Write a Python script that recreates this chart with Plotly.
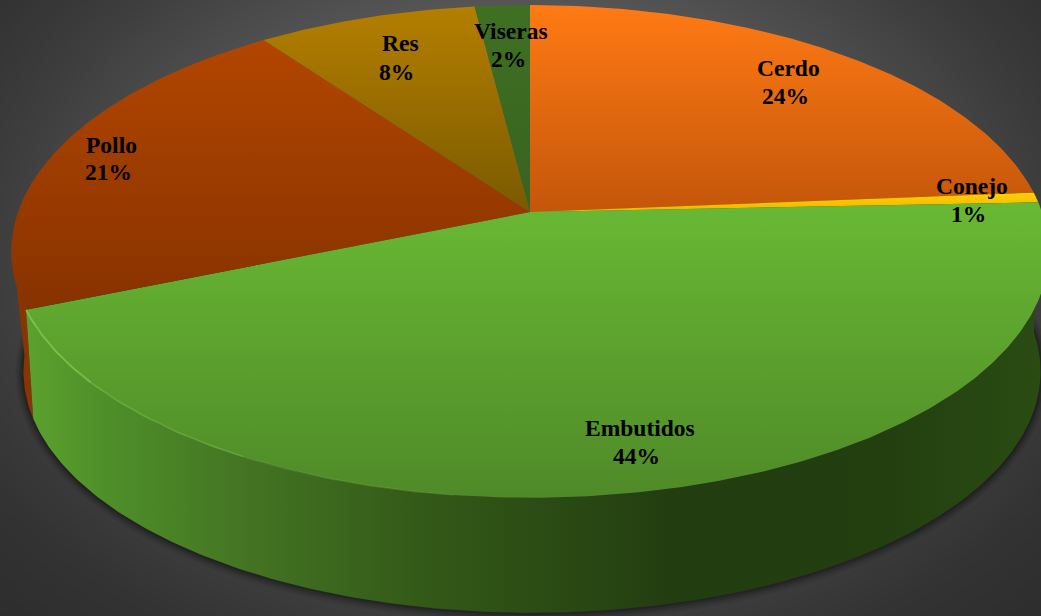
"""Perspective 3D-style pie of meat categories, drawn with filled scatter traces."""

import numpy as np
import plotly.graph_objects as go

CATEGORIES = ["Cerdo", "Conejo", "Embutidos", "Pollo", "Res", "Viseras"]
VALUES = [23.7, 0.65, 44.4, 21.25, 8.0, 2.0]
PERCENT_LABELS = ["24%", "1%", "44%", "21%", "8%", "2%"]

# (top colour, bottom colour) of each slice's face
FACE_COLORS = [
    ("#ff7a14", "#c4560a"),
    ("#ffd000", "#f0b400"),
    ("#69b934", "#4f8a28"),
    ("#b24600", "#873200"),
    ("#b47f00", "#7a5a00"),
    ("#3f7022", "#386320"),
]
NAME_POS = [(788, 68), (972, 186), (640, 428), (111, 145), (400, 43), (511, 31)]
PCT_POS = [(785, 96), (968, 214), (636, 456), (108, 172), (396, 72), (508, 59)]

W, H = 1041, 616
TOP_CX, TOP_CY, TOP_RX, TOP_RY = 530, 212, 512, 240
BOT_CX, BOT_CY, BOT_RX, BOT_RY = 532, 333, 502, 235
BOT_SHIFT = 0.65  # the lower rim's slice seam sits a little further round
PERSP = 0.16


def project(pct, cx, cy, rx, ry):
    """Percent clockwise from 12 o'clock -> pixel position on a tilted circle."""
    a = np.asarray(pct) * 2 * np.pi / 100
    u, v = np.sin(a), np.cos(a)
    w = 1 + PERSP * v
    return cx + rx * u / w, cy - ry * v / w


def top_arc(p0, p1):
    return project(np.linspace(p0, p1, max(int(abs(p1 - p0) * 6), 4)), TOP_CX, TOP_CY, TOP_RX, TOP_RY)


def bot_arc(p0, p1, grow=0.0):
    return project(np.linspace(p0, p1, max(int(abs(p1 - p0) * 6), 4)),
                   BOT_CX, BOT_CY, BOT_RX + grow, BOT_RY + grow)


def wall(p0, p1, stops, name):
    x0, y0 = top_arc(p0, p1)
    x1, y1 = bot_arc(p1 + BOT_SHIFT, p0 + BOT_SHIFT)
    return go.Scatter(
        x=np.r_[x0, x1], y=np.r_[y0, y1], mode="lines", line=dict(width=0),
        fill="toself", fillgradient=dict(type="horizontal", colorscale=stops, start=0, stop=W),
        hoverinfo="skip", showlegend=False, name=name,
    )


fig = go.Figure()

# dark radial backdrop
bx = np.linspace(0, W, 27)
by = np.linspace(0, H, 17)
bz = np.sqrt(((bx[None, :] - 520) / 520) ** 2 + ((by[:, None] - 250) / 370) ** 2)
fig.add_trace(go.Heatmap(
    x=bx, y=by, z=bz, zmin=0.6, zmax=1.45, zsmooth="best", showscale=False, hoverinfo="skip",
    colorscale=[[0, "#5a5a5a"], [0.5, "#3c3c3c"], [0.7, "#333333"], [1, "#2c2c2c"]],
))

cum = np.r_[0, np.cumsum(VALUES)]

# soft shadow hugging the lower rim
for grow, alpha in [(8, 0.06), (6, 0.09), (4, 0.13), (2, 0.18)]:
    sx, sy = bot_arc(20, 80, grow=grow)
    fig.add_trace(go.Scatter(
        x=sx, y=sy, mode="lines", line=dict(width=0), fill="toself",
        fillcolor=f"rgba(0,0,0,{alpha})", hoverinfo="skip", showlegend=False,
    ))

# side walls, back to front
fig.add_trace(wall(cum[3], 73, [[0, "#8a3500"], [1, "#8a3500"]], "Pollo wall"))
fig.add_trace(wall(cum[2], cum[3], [
    [0, "#5fa830"], [0.1, "#4f8f29"], [0.25, "#427222"], [0.4, "#345a18"],
    [0.65, "#223d10"], [0.85, "#233f10"], [1, "#2a4c13"],
], "Embutidos wall"))

# top faces
for i, name in enumerate(CATEGORIES):
    ax, ay = top_arc(cum[i], cum[i + 1])
    fig.add_trace(go.Scatter(
        x=np.r_[TOP_CX, ax, TOP_CX], y=np.r_[TOP_CY, ay, TOP_CY], mode="lines", line=dict(width=0),
        fill="toself", name=name, showlegend=False,
        fillgradient=dict(
            type="vertical",
            colorscale=[[0, FACE_COLORS[i][0]], [1, FACE_COLORS[i][1]]],
            start=float(min(ay.min(), TOP_CY)),
            stop=float(max(ay.max(), TOP_CY)),
        ),
    ))

# bright bevel on the front-left rim of the green slice
for p0, color, lw in [(52, "rgba(130,215,85,0.2)", 1.5), (58, "rgba(135,220,90,0.3)", 1.5),
                      (64, "rgba(145,225,95,0.35)", 2)]:
    lx, ly = top_arc(p0, cum[3])
    fig.add_trace(go.Scatter(x=lx, y=ly, mode="lines", line=dict(color=color, width=lw),
                             hoverinfo="skip", showlegend=False))

text_font = dict(family="Liberation Serif", size=23.5, color="#000000", weight="bold")
for name, pct, np_, pp in zip(CATEGORIES, PERCENT_LABELS, NAME_POS, PCT_POS):
    fig.add_annotation(x=np_[0], y=np_[1], text=f"<b>{name}</b>", showarrow=False, font=text_font)
    fig.add_annotation(x=pp[0], y=pp[1], text=f"<b>{pct}</b>", showarrow=False, font=text_font)

fig.update_layout(
    width=W, height=H, margin=dict(l=0, r=0, t=0, b=0), showlegend=False,
    paper_bgcolor="#3d3d3d", plot_bgcolor="#3d3d3d",
)
fig.update_xaxes(range=[0, W], visible=False)
fig.update_yaxes(range=[H, 0], visible=False)

fig.write_html("out.html", config=dict(displayModeBar=False),
               post_script="document.body.style.margin='0';")
